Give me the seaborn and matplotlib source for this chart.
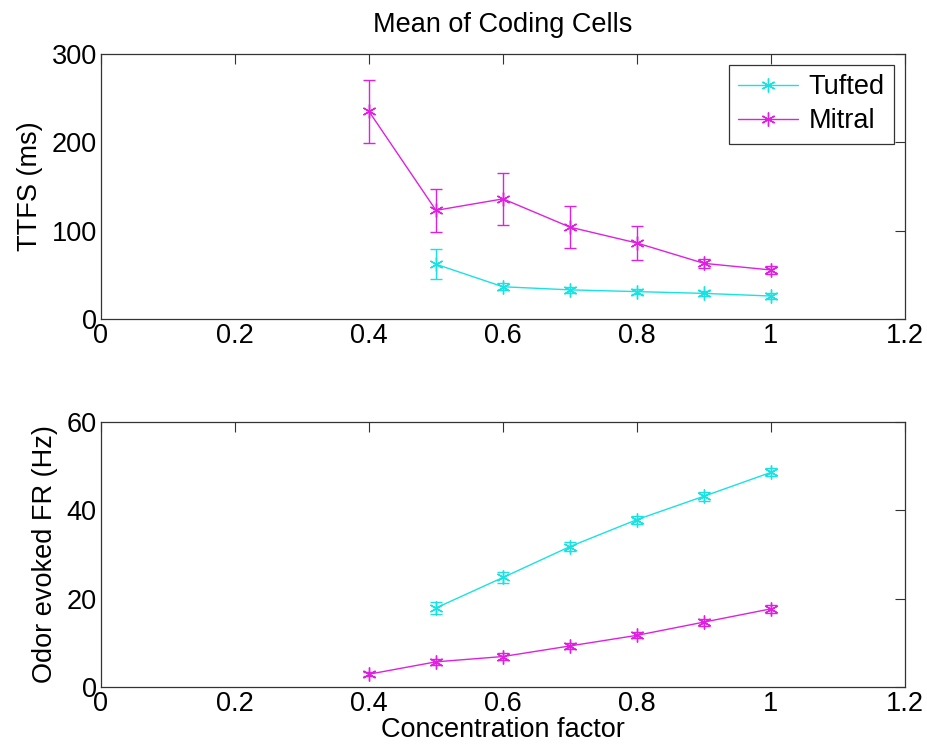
import numpy as np
import pandas as pd
import matplotlib
matplotlib.use("Agg")
import matplotlib.pyplot as plt
import seaborn as sns

# ---- data ----
conc_tufted = [0.5, 0.6, 0.7, 0.8, 0.9, 1.0]
conc_mitral = [0.4, 0.5, 0.6, 0.7, 0.8, 0.9, 1.0]

ttfs_tufted = [62, 36.5, 33, 31, 29, 26]
ttfs_tufted_err = [17, 4, 3, 3, 3, 3]
ttfs_mitral = [235, 123, 136, 104, 86, 63, 55.5]
ttfs_mitral_err = [36, 24, 29.5, 23.5, 19.5, 5, 4]

fr_tufted = [17.9, 24.8, 31.8, 37.9, 43.2, 48.6]
fr_tufted_err = [1.4, 1.3, 1.0, 0.9, 1.0, 0.9]
fr_mitral = [2.9, 5.7, 6.9, 9.3, 11.7, 14.7, 17.7]
fr_mitral_err = [0.5, 0.7, 0.7, 0.7, 0.7, 0.8, 0.9]

series_names = ["Tufted", "Mitral"]
x_ticks = [0, 0.2, 0.4, 0.6, 0.8, 1.0, 1.2]
x_ticklabels = ["0", "0.2", "0.4", "0.6", "0.8", "1", "1.2"]
top_yticks = [0, 100, 200, 300]
bot_yticks = [0, 20, 40, 60]

colors = {"Tufted": "#18e2e2", "Mitral": "#e020e0"}

sns.set_style("white")
plt.rcParams["font.family"] = ["Liberation Sans", "DejaVu Sans"]
plt.rcParams["text.color"] = "black"
plt.rcParams["axes.labelcolor"] = "black"
FS = 19.5

fig = plt.figure(figsize=(9.28, 7.54), dpi=100)
ax1 = fig.add_axes([101/928, 1-319/754, 804/928, 265/754])
ax2 = fig.add_axes([101/928, 1-687/754, 804/928, 265/754])

marker = (6, 2, 0)

def build(xt, yt, et, xm, ym, em):
    d1 = pd.DataFrame({"x": xt, "y": yt, "err": et, "type": "Tufted"})
    d2 = pd.DataFrame({"x": xm, "y": ym, "err": em, "type": "Mitral"})
    return pd.concat([d1, d2], ignore_index=True)

top_df = build(conc_tufted, ttfs_tufted, ttfs_tufted_err, conc_mitral, ttfs_mitral, ttfs_mitral_err)
bot_df = build(conc_tufted, fr_tufted, fr_tufted_err, conc_mitral, fr_mitral, fr_mitral_err)

for ax, df, yticks, ylim, ylabel in [
    (ax1, top_df, top_yticks, (0, 300), "TTFS (ms)"),
    (ax2, bot_df, bot_yticks, (0, 60), "Odor evoked FR (Hz)"),
]:
    sns.lineplot(data=df, x="x", y="y", hue="type", hue_order=series_names,
                 palette=colors, marker=marker, markersize=10,
                 linewidth=1.0, ax=ax, legend=False, errorbar=None)
    for ln in ax.lines:
        ln.set_markeredgecolor(ln.get_color())
        ln.set_markerfacecolor(ln.get_color())
        ln.set_markeredgewidth(1.0)
    for name in series_names:
        sub = df[df["type"] == name]
        ax.errorbar(sub["x"], sub["y"], yerr=sub["err"], fmt="none",
                    ecolor=colors[name], elinewidth=1.0, capsize=4.5, capthick=1.0)
    ax.set_xlim(0, 1.2)
    ax.set_ylim(*ylim)
    ax.set_xticks(x_ticks)
    ax.set_xticklabels(x_ticklabels)
    ax.set_yticks(yticks)
    ax.tick_params(direction="in", length=7, width=0.8, top=True, right=True,
                   labelsize=FS, colors="#333333", labelcolor="black", pad=3)
    for s in ax.spines.values():
        s.set_visible(True)
        s.set_color("#333333")
        s.set_linewidth(0.9)
    ax.set_ylabel(ylabel, fontsize=FS, labelpad=6, color="black")
    ax.set_xlabel("")

ax1.set_title("Mean of Coding Cells", fontsize=FS, pad=16, color="black")
ax2.set_xlabel("Concentration factor", fontsize=FS, labelpad=0, color="black")

handles = [ax1.lines[i] for i in range(2)]
leg = ax1.legend(handles, series_names, loc="upper right", fontsize=FS, frameon=True,
                 fancybox=False, edgecolor="#333333", framealpha=1, borderpad=0.35,
                 labelspacing=0.3, handlelength=2.2, handletextpad=0.4,
                 borderaxespad=0.4)
leg.get_frame().set_linewidth(0.9)
for t in leg.get_texts():
    t.set_color("black")

fig.savefig("out.png", dpi=100, facecolor="white")
